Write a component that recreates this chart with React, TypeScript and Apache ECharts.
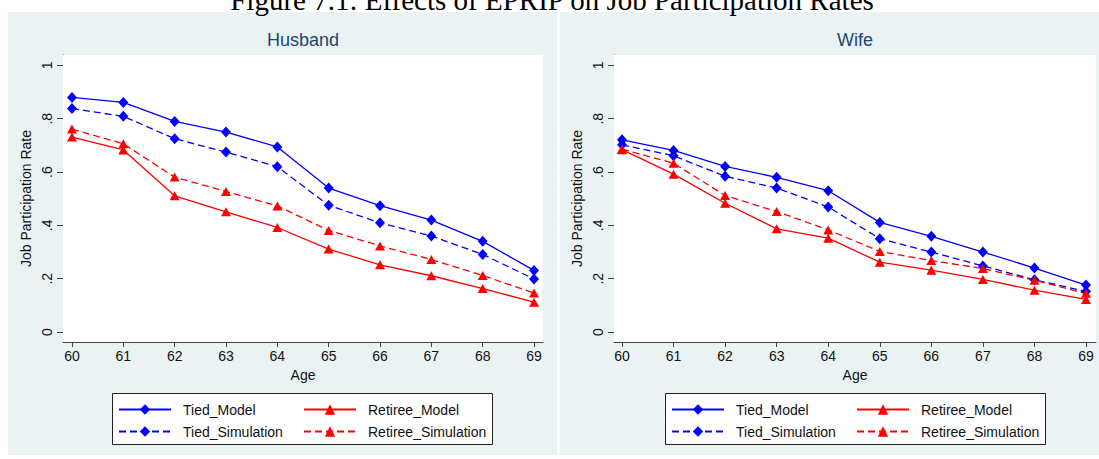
import React, { useEffect, useRef } from "react";
import * as echarts from "echarts";

const ages = [60, 61, 62, 63, 64, 65, 66, 67, 68, 69];
const yTicks = [0, 0.2, 0.4, 0.6, 0.8, 1];
const yTickLabels = ["0", ".2", ".4", ".6", ".8", "1"];
const seriesNames = ["Tied_Model", "Retiree_Model", "Tied_Simulation", "Retiree_Simulation"];

const husbandTiedModel = [0.88, 0.861, 0.79, 0.75, 0.694, 0.54, 0.474, 0.42, 0.34, 0.231];
const husbandTiedSim = [0.838, 0.809, 0.725, 0.675, 0.62, 0.475, 0.41, 0.36, 0.291, 0.199];
const husbandRetireeModel = [0.731, 0.683, 0.511, 0.451, 0.392, 0.311, 0.252, 0.211, 0.163, 0.112];
const husbandRetireeSim = [0.761, 0.706, 0.581, 0.527, 0.473, 0.381, 0.323, 0.272, 0.212, 0.146];

const wifeTiedModel = [0.721, 0.681, 0.621, 0.58, 0.53, 0.411, 0.359, 0.3, 0.24, 0.176];
const wifeTiedSim = [0.702, 0.661, 0.584, 0.54, 0.469, 0.35, 0.3, 0.248, 0.196, 0.152];
const wifeRetireeModel = [0.684, 0.592, 0.483, 0.387, 0.352, 0.262, 0.232, 0.197, 0.157, 0.122];
const wifeRetireeSim = [0.686, 0.633, 0.512, 0.452, 0.383, 0.302, 0.268, 0.238, 0.194, 0.145];

const BLUE = "#0000ff";
const RED = "#ff0000";
const BG = "#eaf2f3";
const FONT = "'Liberation Sans', Arial, sans-serif";

const pairs = (vals: number[]) => ages.map((a, i) => [a, vals[i]]);

const styleFor = (name: string) => {
  const tied = name.startsWith("Tied");
  const sim = name.endsWith("Simulation");
  return {
    color: tied ? BLUE : RED,
    symbol: tied ? "diamond" : "triangle",
    symbolSize: tied ? [10, 11] : [10, 9],
    dash: sim ? [7, 4] : "solid",
  };
};

const makeSeries = (name: string, vals: number[], gi: number) => {
  const s = styleFor(name);
  return {
    type: "line",
    name: gi === 0 ? name : name + " ",
    xAxisIndex: gi,
    yAxisIndex: gi,
    data: pairs(vals),
    symbol: s.symbol,
    symbolSize: s.symbolSize,
    showAllSymbol: true,
    itemStyle: { color: s.color },
    lineStyle: { color: s.color, width: 1.3, type: s.dash },
    z: 3,
  };
};

const panels = [
  { name: "Husband", gridLeft: 63, gridRight: 543, xMin: 59.825, xMax: 69.175, bgX: 8, bgW: 549, legendX: 112 },
  { name: "Wife", gridLeft: 614, gridRight: 1096, xMin: 59.845, xMax: 69.194, bgX: 560, bgW: 539, legendX: 665 },
];

export default function App() {
  const ref = useRef<HTMLDivElement>(null);
  useEffect(() => {
    if (!ref.current) return;
    const chart = echarts.init(ref.current, undefined, { renderer: "svg" });

    const grids = panels.map((p) => ({
      left: p.gridLeft,
      top: 55,
      width: p.gridRight - p.gridLeft,
      height: 287,
      show: true,
      backgroundColor: "#ffffff",
      borderWidth: 0,
      z: 1,
    }));

    const xAxes = panels.map((p, i) => ({
      type: "value",
      gridIndex: i,
      min: p.xMin,
      max: p.xMax,
      name: "Age",
      nameLocation: "middle",
      nameGap: 26,
      nameTextStyle: { fontFamily: FONT, fontSize: 14, color: "#111" },
      axisLine: { show: true, onZero: false, lineStyle: { color: "#444", width: 1 } },
      axisTick: { show: true, length: 5, customValues: ages, lineStyle: { color: "#444" } },
      axisLabel: { customValues: ages, fontFamily: FONT, fontSize: 14, color: "#111", margin: 7 },
      splitLine: { show: false },
    }));

    const yAxes = panels.map((p, i) => ({
      type: "value",
      gridIndex: i,
      min: -0.0375,
      max: 1.039,
      name: "Job Participation Rate",
      nameLocation: "middle",
      nameGap: 30,
      nameTextStyle: { fontFamily: FONT, fontSize: 14, color: "#111" },
      axisLine: { show: true, lineStyle: { color: "#444", width: 1 } },
      axisTick: { show: true, length: 6, customValues: yTicks, lineStyle: { color: "#444" } },
      axisLabel: {
        customValues: yTicks,
        rotate: 90,
        fontFamily: FONT,
        fontSize: 14,
        color: "#111",
        margin: 9,
        formatter: (v: number) => {
          const idx = yTicks.findIndex((t) => Math.abs(t - v) < 1e-6);
          return idx >= 0 ? yTickLabels[idx] : "";
        },
      },
      splitLine: { show: true, lineStyle: { color: [BG, BG, BG, BG, BG, "rgba(0,0,0,0)"], width: 1 } },
    }));

    const series: any[] = [
      makeSeries("Tied_Model", husbandTiedModel, 0),
      makeSeries("Tied_Simulation", husbandTiedSim, 0),
      makeSeries("Retiree_Model", husbandRetireeModel, 0),
      makeSeries("Retiree_Simulation", husbandRetireeSim, 0),
      makeSeries("Tied_Model", wifeTiedModel, 1),
      makeSeries("Tied_Simulation", wifeTiedSim, 1),
      makeSeries("Retiree_Model", wifeRetireeModel, 1),
      makeSeries("Retiree_Simulation", wifeRetireeSim, 1),
    ];

    const legends: any[] = [];
    panels.forEach((p, gi) => {
      seriesNames.forEach((n, k) => {
        const col = k % 2;
        const row = Math.floor(k / 2);
        legends.push({
          show: true,
          data: [gi === 0 ? n : n + " "],
          left: p.legendX + 6 + col * 185,
          top: 409 + row * 22 - 6.5,
          orient: "horizontal",
          padding: 0,
          itemWidth: 52,
          itemHeight: 13,
          selectedMode: false,
          formatter: () => n,
          textStyle: { fontFamily: FONT, fontSize: 14, color: "#111", padding: [0, 0, 0, 7] },
          z: 5,
        });
      });
    });

    const graphics: any[] = [
      ...panels.map((p) => ({
        type: "rect",
        shape: { x: p.bgX, y: 12, width: p.bgW, height: 443 },
        style: { fill: BG },
        z: 0,
        silent: true,
      })),
      ...panels.map((p) => ({
        type: "rect",
        shape: { x: p.legendX + 0.5, y: 393.5, width: 380, height: 51 },
        style: { fill: "#ffffff", stroke: "#222", lineWidth: 1 },
        z: 1,
        silent: true,
      })),
      ...panels.map((p) => ({
        type: "text",
        x: (p.gridLeft + p.gridRight) / 2,
        y: 40,
        style: {
          text: p.name,
          fill: "#1a476f",
          font: `18px ${FONT}`,
          align: "center",
          verticalAlign: "middle",
        },
        z: 5,
      })),
      {
        type: "text",
        x: 552,
        y: 0,
        style: {
          text: "Figure 7.1: Effects of EPRIP on Job Participation Rates",
          fill: "#000",
          font: "29px 'Liberation Serif', 'Times New Roman', serif",
          align: "center",
          verticalAlign: "middle",
        },
        z: 5,
      },
    ];

    chart.setOption({
      animation: false,
      backgroundColor: "#ffffff",
      grid: grids,
      xAxis: xAxes,
      yAxis: yAxes,
      legend: legends,
      series,
      graphic: graphics,
    });
    return () => chart.dispose();
  }, []);

  return (
    <div
      ref={ref}
      style={{ position: "absolute", left: 0, top: 0, width: 1099, height: 459 }}
    />
  );
}
